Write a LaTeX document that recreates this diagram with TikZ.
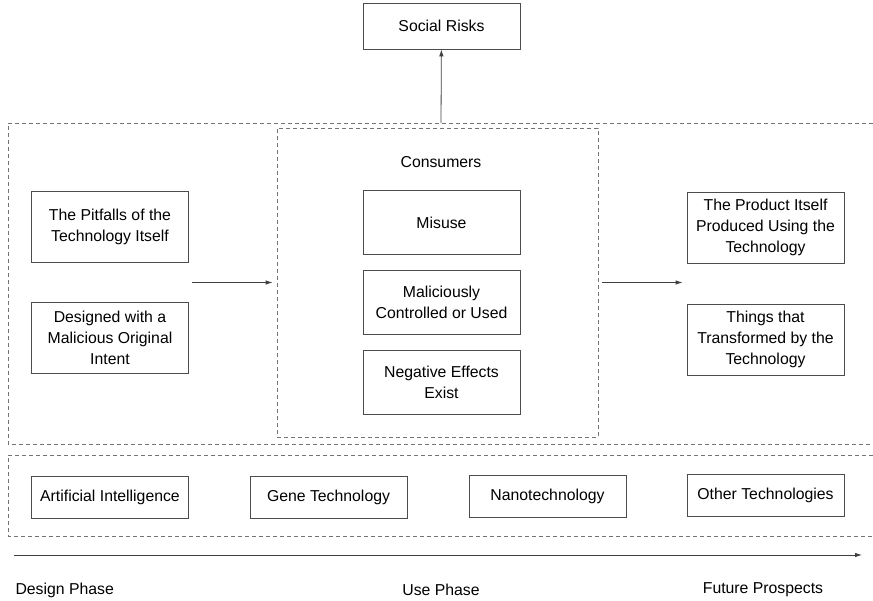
\documentclass[tikz,border=0pt]{standalone}
\usepackage{fontspec}
\setmainfont{Liberation Sans}
\usetikzlibrary{positioning,arrows.meta}
\begin{document}
\begin{tikzpicture}[>={Latex[length=7pt,width=4.5pt]},x=1pt,y=-1pt,
  font=\fontsize{15.8}{21}\selectfont,
  box/.style={draw=black!70,line width=0.8pt,align=center,inner sep=0pt,minimum width=157pt},
  dashbox/.style={draw=black!55,line width=0.8pt,dash pattern=on 4pt off 3pt},
  flow/.style={->,draw=black!75,line width=0.8pt}]
\useasboundingbox (0,0) rectangle (873,601);
\def\hb{71pt}
\def\hc{64pt}
% dashed frames, running off the right edge
\begin{scope}
\clip (0,0) rectangle (873,601);
\draw[dashbox] (880,123) -- (8,123) -- (8,444) -- (880,444);
\draw[dashbox] (880,455) -- (8,455) -- (8,536) -- (880,536);
\end{scope}
\coordinate (frametop) at (441,123);
\node[dashbox,minimum width=321pt,minimum height=309pt] (consumers) at (437.5,282.5) {};
\node (consumerslabel) at (441,162) {Consumers};
% top
\node[box,minimum height=46pt] (social) at (441.5,26) {Social Risks};
% design side
\node[box,minimum height=\hb] (pitfalls) at (110,226.5) {The Pitfalls of the\\Technology Itself};
\node[box,minimum height=\hb] (designed) at (110,337.5) {Designed with a\\Malicious Original\\Intent};
% use side
\node[box,minimum height=\hc] (misuse) at (441.5,222.5) {Misuse};
\node[box,minimum height=\hc] (controlled) at (441.5,302) {Maliciously\\Controlled or Used};
\node[box,minimum height=\hc] (negative) at (441.5,382) {Negative Effects\\Exist};
% future side
\node[box,minimum height=\hb] (product) at (765.5,227.5) {The Product Itself\\Produced Using the\\Technology};
\node[box,minimum height=\hb] (things) at (765.5,339.5) {Things that\\Transformed by the\\Technology};
% technologies
\foreach \x/\y/\name/\txt in {110/497.5/ai/Artificial Intelligence,
  328.5/497/gene/Gene Technology,
  547.5/496/nano/Nanotechnology,
  765.5/495/other/Other Technologies}{
  \node[box,minimum height=42pt] (\name) at (\x,\y) {\txt};
}
% connectors
\draw[flow] (frametop) -- (social);
\draw[flow,shorten <=3pt,shorten >=4pt] (pitfalls.east |- consumers.west) -- (consumers.west);
\draw[flow,shorten <=4pt,shorten >=4pt] (consumers.east) -- (product.west |- consumers.east);
% timeline
\coordinate (tstart) at (14,555);
\coordinate (tend) at (862,555);
\draw[flow] (tstart) -- (tend);
\node[anchor=west] (design) at (12,590) {Design Phase};
\node (use) at (441,590) {Use Phase};
\node (future) at (763,590) {Future Prospects};
\end{tikzpicture}
\end{document}
